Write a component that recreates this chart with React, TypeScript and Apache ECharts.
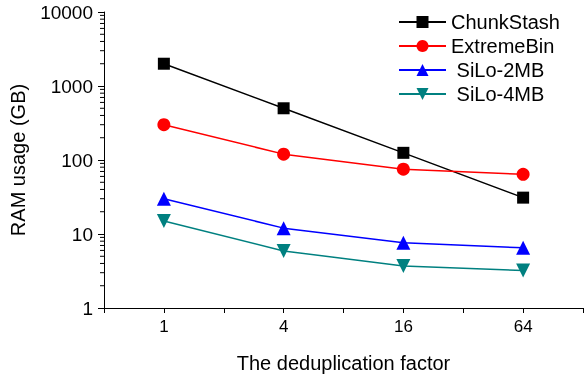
import React, { useEffect, useRef } from "react";
import * as echarts from "echarts";

const categories = ["1", "4", "16", "64"];
const seriesNames = ["ChunkStash", "ExtremeBin", "SiLo-2MB", "SiLo-4MB"];
const chunkStash = [2000, 500, 125, 31];
const extremeBin = [300, 120, 75, 64];
const silo2MB = [30, 12, 7.6, 6.5];
const silo4MB = [15, 5.9, 3.7, 3.2];
const yTickLabels = ["1", "10", "100", "1000", "10000"];
const yMinorTicks = [1, 10, 100, 1000].flatMap((d) => [2, 3, 4, 5, 6, 7, 8, 9].map((m) => m * d));

const FONT = "Liberation Sans, Arial, sans-serif";

export default function App() {
  const ref = useRef<HTMLDivElement>(null);
  useEffect(() => {
    if (!ref.current) return;
    const chart = echarts.init(ref.current, null, { renderer: "svg" });
    const mk = (vals: number[]) => vals.map((v, i) => [i, v]);
    const defs = [
      { name: seriesNames[0], data: chunkStash, color: "#000000", symbol: "rect", size: 12, rot: 0 },
      { name: seriesNames[1], data: extremeBin, color: "#ff0000", symbol: "circle", size: 13, rot: 0 },
      { name: seriesNames[2], data: silo2MB, color: "#0000ff", symbol: "triangle", size: 14, rot: 0 },
      { name: seriesNames[3], data: silo4MB, color: "#008080", symbol: "triangle", size: 14, rot: 180 },
    ];
    chart.setOption({
      animation: false,
      grid: { left: 103, top: 12, bottom: 71, right: -1, containLabel: false },
      legend: {
        orient: "vertical",
        left: 398,
        top: 12,
        padding: 0,
        itemWidth: 47,
        itemHeight: 15,
        itemGap: 4,
        data: seriesNames,
        formatter: (n: string) => (n.startsWith("SiLo") ? "\u00a0" + n : n),
        textStyle: { fontFamily: FONT, fontSize: 20, color: "#000" },
      },
      xAxis: {
        type: "value",
        min: -0.5,
        max: 3.5,
        interval: 0.5,
        name: "The deduplication factor",
        nameLocation: "middle",
        nameGap: 45,
        nameTextStyle: { fontFamily: FONT, fontSize: 20, color: "#000" },
        axisLine: { onZero: false, lineStyle: { color: "#000", width: 1 } },
        axisTick: { show: true, length: 5, lineStyle: { color: "#000" } },
        splitLine: { show: false },
        axisLabel: {
          margin: 10,
          fontFamily: FONT,
          fontSize: 17,
          color: "#000",
          showMinLabel: true,
          showMaxLabel: true,
          formatter: (v: number) => (Number.isInteger(v) && v >= 0 && v < categories.length ? categories[v] : ""),
        },
      },
      yAxis: {
        type: "log",
        logBase: 10,
        min: 1,
        max: 10000,
        name: "RAM usage (GB)",
        nameLocation: "middle",
        nameGap: 76,
        nameTextStyle: { fontFamily: FONT, fontSize: 20, color: "#000" },
        axisLine: { show: true, onZero: false, lineStyle: { color: "#000", width: 1 } },
        axisTick: { show: true, length: 6, lineStyle: { color: "#000", width: 1 } },
        minorTick: { show: false },
        splitLine: { show: false },
        axisLabel: {
          margin: 11,
          fontFamily: FONT,
          fontSize: 19,
          color: "#000",
          formatter: (v: number) => {
            const s = String(Math.round(v));
            return yTickLabels.includes(s) ? s : "";
          },
        },
      },
      series: [
        {
          type: "scatter",
          name: "minorTicks",
          silent: true,
          clip: false,
          z: 5,
          data: yMinorTicks.map((v) => [-0.5, v]),
          symbol: "rect",
          symbolSize: [4, 1],
          symbolOffset: [-2, 0],
          itemStyle: { color: "#000", opacity: 1 },
          emphasis: { disabled: true },
        },
        ...defs.map((d) => ({
          type: "line",
          name: d.name,
          data: mk(d.data),
          symbol: d.symbol,
          symbolSize: d.size,
          symbolRotate: d.rot,
          showAllSymbol: true,
          lineStyle: { color: d.color, width: 1.5 },
          itemStyle: { color: d.color },
          z: 3,
        })),
      ],
    });
    return () => chart.dispose();
  }, []);
  return <div ref={ref} style={{ position: "fixed", left: 0, top: 0, width: 586, height: 379 }} />;
}
